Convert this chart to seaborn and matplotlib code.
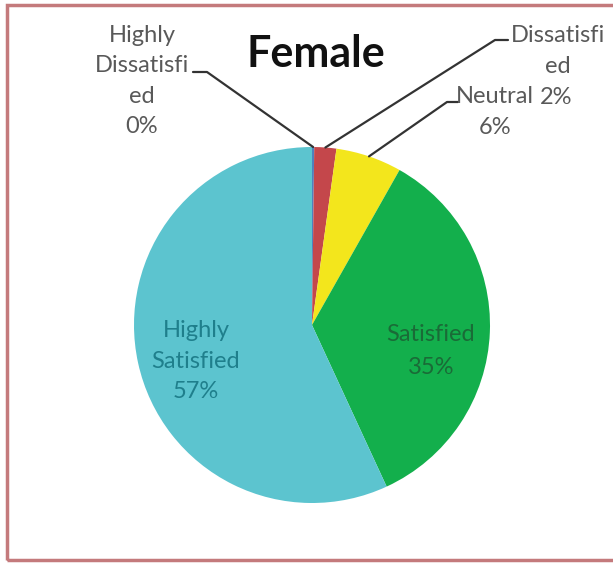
import numpy as np
import matplotlib.pyplot as plt
import seaborn as sns
from matplotlib.lines import Line2D
from matplotlib.patches import Rectangle

# data
categories = ["Highly Dissatisfied", "Dissatisfied", "Neutral", "Satisfied", "Highly Satisfied"]
shares = [0.2, 2, 6, 35, 57]
wrapped = ["Highly\nDissatisfi\ned", "Dissatisfi\ned", "Neutral", "Satisfied", "Highly\nSatisfied"]
colors = ["#4F81BD", "#C4474B", "#F3E61C", "#13AF4C", "#5CC4CF"]

W, H = 613, 565

sns.set_theme(style="white")
plt.rcParams['font.family'] = ['Lato', 'DejaVu Sans']


def fpx(x, y):
    """pixel from top-left -> figure fraction"""
    return x / W, 1 - y / H


fig = plt.figure(figsize=(W / 100, H / 100), dpi=100)
cx, cy, r = 312, 325, 178
ax = fig.add_axes([(cx - r) / W, (H - cy - r) / H, 2 * r / W, 2 * r / H])
wedges, _ = ax.pie(shares, colors=colors, startangle=90, counterclock=False,
                   radius=1, wedgeprops=dict(linewidth=0))
ax.set_xlim(-1, 1)
ax.set_ylim(-1, 1)
ax.axis('off')

pcts = [f"{v:.0f}%" for v in shares]
gray = "#595959"
fs = 17
ls = 1.55


def leader(i, elbow):
    w = wedges[i]
    ang = np.deg2rad((w.theta1 + w.theta2) / 2)
    disp = ax.transData.transform((np.cos(ang), np.sin(ang)))
    tip = fig.transFigure.inverted().transform(disp)
    p0, p1 = fpx(*elbow[0]), fpx(*elbow[1])
    fig.add_artist(Line2D([p0[0], p1[0], tip[0]], [p0[1], p1[1], tip[1]],
                          transform=fig.transFigure, color="#333333", lw=1.6))


# Highly Dissatisfied
fig.text(*fpx(142, 81), f"{wrapped[0]}\n{pcts[0]}", ha='center', va='center',
         fontsize=fs, color=gray, linespacing=ls)
leader(0, [(193, 72), (207, 72)])

# Dissatisfied (its % sits next to the Neutral label, as in the original)
fig.text(*fpx(558, 51), wrapped[1], ha='center', va='center',
         fontsize=fs, color=gray, linespacing=ls)
fig.text(*fpx(556, 97), pcts[1], ha='center', va='center', fontsize=fs, color=gray)
leader(1, [(508, 40), (495, 40)])

# Neutral
fig.text(*fpx(495, 112), f"{wrapped[2]}\n{pcts[2]}", ha='center', va='center',
         fontsize=fs, color=gray, linespacing=ls)
leader(2, [(458, 102), (447, 102)])

# inside labels
fig.text(*fpx(196, 361), f"{wrapped[4]}\n{pcts[4]}", ha='center', va='center',
         fontsize=fs, color="#1F7F8C", linespacing=ls)
fig.text(*fpx(431, 351), f"{wrapped[3]}\n{pcts[3]}", ha='center', va='center',
         fontsize=fs, color="#1A6B37", linespacing=1.65)

fig.text(*fpx(316, 54), "Female", ha='center', va='center', fontsize=31,
         fontweight='bold', color="#111111")

x0, y0 = fpx(7, 560)
x1, y1 = fpx(625, 5)
fig.add_artist(Rectangle((x0, y0), x1 - x0, y1 - y0, transform=fig.transFigure,
                         fill=False, edgecolor="#C47A7C", lw=2.5))

fig.savefig("out.png", dpi=100)
